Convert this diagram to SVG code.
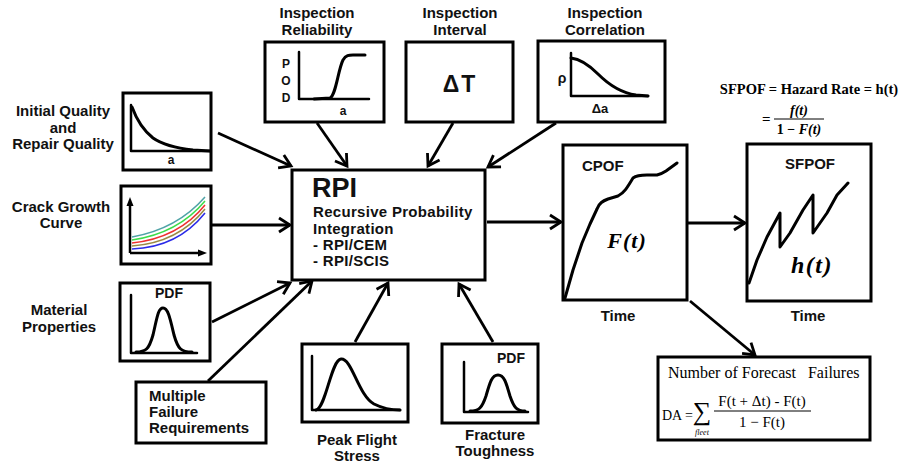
<svg xmlns="http://www.w3.org/2000/svg" width="904" height="463" viewBox="0 0 904 463">
<defs>
<style>
.box{fill:#fff;stroke:#000;stroke-width:3}
.ln{fill:none;stroke:#000;stroke-width:2.5;stroke-linejoin:round;stroke-linecap:round}
.cv{fill:none;stroke:#000;stroke-width:3;stroke-linejoin:round;stroke-linecap:round}
.con{fill:none;stroke:#000;stroke-width:2.8}
.lbl{font-family:"Liberation Sans",Arial,sans-serif;font-weight:bold;font-size:15px;fill:#111}
.in{font-family:"Liberation Sans",Arial,sans-serif;font-weight:bold;font-size:12px;fill:#111}
.tm{font-family:"Liberation Serif","Times New Roman",serif;fill:#000}
</style>
<marker id="ah" markerUnits="userSpaceOnUse" markerWidth="20" markerHeight="20" viewBox="-14 -10 16 20" refX="0" refY="0" orient="auto">
<path d="M-11,-7 L0,0 L-11,7" fill="none" stroke="#000" stroke-width="2.8" stroke-linejoin="miter"/>
</marker>
</defs>

<g id="connectors">
<line class="con" x1="218" y1="133" x2="291" y2="166" marker-end="url(#ah)"/>
<line class="con" x1="317" y1="123" x2="347" y2="166" marker-end="url(#ah)"/>
<line class="con" x1="453" y1="123" x2="428" y2="166" marker-end="url(#ah)"/>
<line class="con" x1="556" y1="123" x2="488" y2="167" marker-end="url(#ah)"/>
<line class="con" x1="211" y1="225" x2="290" y2="225" marker-end="url(#ah)"/>
<line class="con" x1="212" y1="322" x2="290" y2="283" marker-end="url(#ah)"/>
<line class="con" x1="208" y1="381" x2="312" y2="281" marker-end="url(#ah)"/>
<line class="con" x1="355" y1="342" x2="388" y2="283" marker-end="url(#ah)"/>
<line class="con" x1="493" y1="342" x2="459" y2="284" marker-end="url(#ah)"/>
<line class="con" x1="487" y1="222" x2="561" y2="222" marker-end="url(#ah)"/>
<line class="con" x1="687" y1="223" x2="745" y2="223" marker-end="url(#ah)"/>
<line class="con" x1="690" y1="301" x2="755" y2="355" marker-end="url(#ah)"/>
</g>

<g id="initial-quality">
<text class="lbl" text-anchor="middle" x="63" y="116">Initial Quality</text>
<text class="lbl" text-anchor="middle" x="63" y="133">and</text>
<text class="lbl" text-anchor="middle" x="63" y="149">Repair Quality</text>
<rect class="box" x="123" y="93" width="88" height="77"/>
<polyline class="ln" points="131,105 131,151 210,151"/>
<path class="cv" d="M132,107 C136,118 143,130 153,138 C163,145 175,148 193,150 L210,151"/>
<text class="in" text-anchor="middle" x="171" y="164">a</text>
</g>

<g id="crack-growth">
<text class="lbl" text-anchor="middle" x="61" y="212">Crack Growth</text>
<text class="lbl" text-anchor="middle" x="61" y="228">Curve</text>
<rect class="box" x="121" y="186" width="90" height="78"/>
<line x1="130" y1="204" x2="130" y2="253" stroke="#000" stroke-width="2.5"/>
<polygon points="130,197 126.5,206 133.5,206" fill="#000"/>
<line x1="130" y1="253" x2="200" y2="253" stroke="#000" stroke-width="2.5"/>
<polygon points="207,253 198,249.5 198,256.5" fill="#000"/>
<path d="M132,237 C160,232 185,220 205,197" fill="none" stroke="#4fa3a6" stroke-width="1.5"/>
<path d="M132,240 C160,236 185,225 205,201" fill="none" stroke="#3ddc4a" stroke-width="1.5"/>
<path d="M132,243 C160,240 185,230 205,205" fill="none" stroke="#ee3030" stroke-width="1.5"/>
<path d="M132,246 C160,244 185,234 205,209" fill="none" stroke="#9a8a45" stroke-width="1.5"/>
<path d="M132,249 C160,248 185,238 205,213" fill="none" stroke="#2a2ae8" stroke-width="1.5"/>
</g>

<g id="material-properties">
<text class="lbl" text-anchor="middle" x="59" y="315">Material</text>
<text class="lbl" text-anchor="middle" x="59" y="332">Properties</text>
<rect class="box" x="120" y="283" width="90" height="78"/>
<text class="in" text-anchor="middle" x="169" y="298" style="font-size:14px">PDF</text>
<polyline class="ln" points="131,295 131,353 197,353"/>
<path class="cv" d="M136,352 C146,352 149,349 153,335 C157,318 158,308 163,308 C168,308 170,318 174,335 C178,349 181,352 192,352"/>
</g>

<g id="multiple-failure">
<rect class="box" x="136" y="382" width="130" height="61"/>
<text class="lbl" x="149" y="401">Multiple</text>
<text class="lbl" x="149" y="417">Failure</text>
<text class="lbl" x="149" y="433">Requirements</text>
</g>

<g id="inspection-reliability">
<text class="lbl" text-anchor="middle" x="317" y="18">Inspection</text>
<text class="lbl" text-anchor="middle" x="317" y="35">Reliability</text>
<rect class="box" x="265" y="42" width="119" height="80"/>
<text class="in" text-anchor="middle" x="286" y="68">P</text>
<text class="in" text-anchor="middle" x="286" y="85">O</text>
<text class="in" text-anchor="middle" x="286" y="102">D</text>
<polyline class="ln" points="299,52 299,99 369,99"/>
<path class="cv" d="M314,99 L330,98 C336,95 338,70 343,60 C346,55 349,55 353,55 L365,55"/>
<text class="in" text-anchor="middle" x="343" y="115">a</text>
</g>

<g id="inspection-interval">
<text class="lbl" text-anchor="middle" x="460" y="18">Inspection</text>
<text class="lbl" text-anchor="middle" x="460" y="35">Interval</text>
<rect class="box" x="406" y="42" width="107" height="80"/>
<text class="lbl" text-anchor="middle" x="460" y="92" style="font-size:23px;letter-spacing:2px">ΔT</text>
</g>

<g id="inspection-correlation">
<text class="lbl" text-anchor="middle" x="605" y="18">Inspection</text>
<text class="lbl" text-anchor="middle" x="605" y="35">Correlation</text>
<rect class="box" x="538" y="41" width="127" height="81"/>
<text class="in" text-anchor="middle" x="562" y="83" style="font-size:14px">ρ</text>
<polyline class="ln" points="571,53 571,96 648,96"/>
<path class="cv" d="M571,58 C580,59 588,64 598,74 C610,86 622,93 636,95 L648,96"/>
<text class="in" text-anchor="middle" x="600" y="113" style="font-size:13px">Δa</text>
</g>

<g id="rpi">
<rect class="box" x="292" y="170" width="193" height="110"/>
<text class="lbl" x="312" y="197" style="font-size:27px">RPI</text>
<text class="lbl" x="313" y="217" style="letter-spacing:0.3px">Recursive Probability</text>
<text class="lbl" x="313" y="234" style="letter-spacing:0.3px">Integration</text>
<text class="lbl" x="313" y="250" style="letter-spacing:0.3px">- RPI/CEM</text>
<text class="lbl" x="313" y="266" style="letter-spacing:0.3px">- RPI/SCIS</text>
</g>

<g id="peak-flight-stress">
<rect class="box" x="302" y="344" width="106" height="78"/>
<polyline class="ln" points="312,356 312,410 400,410"/>
<path class="cv" d="M316,410 C326,408 331,360 341,359 C352,358 358,395 374,404 C384,409 393,410 400,410"/>
<text class="lbl" text-anchor="middle" x="357" y="445">Peak Flight</text>
<text class="lbl" text-anchor="middle" x="357" y="461">Stress</text>
</g>

<g id="fracture-toughness">
<rect class="box" x="442" y="344" width="96" height="79"/>
<text class="in" text-anchor="middle" x="511" y="363" style="font-size:14px">PDF</text>
<polyline class="ln" points="464,362 464,412 528,412"/>
<path class="cv" d="M470,411 C479,411 482,408 486,396 C490,382 492,375 498,375 C504,375 506,382 510,396 C514,408 517,411 525,411"/>
<text class="lbl" text-anchor="middle" x="495" y="440">Fracture</text>
<text class="lbl" text-anchor="middle" x="495" y="456">Toughness</text>
</g>

<g id="cpof">
<rect class="box" x="563" y="145" width="124" height="155"/>
<text class="lbl" x="582" y="171">CPOF</text>
<path class="cv" d="M565,298 L573,270 L582,243 L590,224 L597,209 C599,203 603,201 608,199 L618,196 C624,193 627,188 633,178 C637,175 642,175 647,175 L657,175 C661,174 663,173 666,171 L677,163"/>
<text class="tm" x="627" y="248" text-anchor="middle" style="font-size:22px;font-weight:bold;font-style:italic;letter-spacing:1px">F(t)</text>
<text class="lbl" text-anchor="middle" x="618" y="321">Time</text>
</g>

<g id="sfpof">
<text class="tm" x="809" y="94" text-anchor="middle" style="font-size:14.5px;font-weight:bold">SFPOF = Hazard Rate = h(t)</text>
<text class="tm" x="762" y="124" style="font-size:15px;font-weight:bold">=</text>
<text class="tm" x="799" y="115" text-anchor="middle" style="font-size:14px;font-weight:bold;font-style:italic">f(t)</text>
<line x1="774" y1="119" x2="824" y2="119" stroke="#000" stroke-width="1"/>
<text class="tm" x="799" y="134" text-anchor="middle" style="font-size:14px;font-weight:bold">1 − <tspan font-style="italic">F(t)</tspan></text>
<rect class="box" x="747" y="144" width="124" height="157"/>
<text class="lbl" text-anchor="middle" x="810" y="169">SFPOF</text>
<polyline class="cv" points="749,283 757,260 767,237 780,213 780,247 790,233 803,210 813,195 813,233 827,213 837,195 848,183"/>
<text class="tm" x="812" y="273" text-anchor="middle" style="font-size:24px;font-weight:bold;font-style:italic;letter-spacing:1.5px">h(t)</text>
<text class="lbl" text-anchor="middle" x="808" y="321">Time</text>
</g>

<g id="forecast-failures">
<rect class="box" x="658" y="357" width="212" height="83"/>
<text class="tm" x="668" y="378" style="font-size:16px" xml:space="preserve">Number of Forecast   Failures</text>
<text class="tm" x="662" y="420" style="font-size:14px">DA =</text>
<text class="tm" x="702" y="420" text-anchor="middle" style="font-size:26px">∑</text>
<text class="tm" x="702" y="435" text-anchor="middle" style="font-size:8px;font-style:italic">fleet</text>
<text class="tm" x="762" y="406" text-anchor="middle" style="font-size:15px">F(t + Δt) - F(t)</text>
<line x1="714" y1="411" x2="811" y2="411" stroke="#000" stroke-width="1"/>
<text class="tm" x="762" y="427" text-anchor="middle" style="font-size:15px">1 − F(t)</text>
</g>
</svg>
